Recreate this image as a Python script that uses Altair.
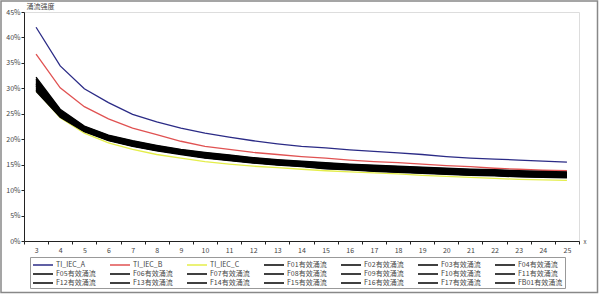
import altair as alt
import pandas as pd

harmonics = list(range(3, 26))

ti_iec_a = [42.0, 34.4, 29.9, 27.2, 24.9, 23.4, 22.2, 21.2, 20.4, 19.7, 19.1, 18.6, 18.3, 17.9, 17.6, 17.3, 17.0, 16.6, 16.3, 16.1, 15.9, 15.7, 15.5]
ti_iec_b = [36.7, 30.1, 26.4, 24.0, 22.2, 20.9, 19.6, 18.6, 18.0, 17.4, 17.0, 16.6, 16.3, 15.9, 15.6, 15.4, 15.1, 14.8, 14.6, 14.3, 14.1, 13.9, 13.8]
ti_iec_c = [29.5, 24.2, 21.2, 19.3, 18.0, 17.0, 16.3, 15.6, 15.1, 14.7, 14.4, 14.1, 13.8, 13.6, 13.4, 13.2, 12.9, 12.7, 12.5, 12.3, 12.1, 12.0, 11.9]

f01 = [32.2, 25.9, 22.6, 20.8, 19.7, 18.8, 18.0, 17.4, 16.9, 16.4, 16.0, 15.7, 15.4, 15.1, 14.9, 14.7, 14.5, 14.3, 14.1, 14.0, 13.8, 13.7, 13.6]
f02 = [31.9, 25.7, 22.5, 20.7, 19.6, 18.7, 17.9, 17.3, 16.8, 16.3, 15.9, 15.6, 15.3, 15.0, 14.8, 14.6, 14.4, 14.2, 14.0, 13.9, 13.7, 13.6, 13.5]
f03 = [31.8, 25.6, 22.4, 20.6, 19.5, 18.6, 17.8, 17.2, 16.7, 16.2, 15.8, 15.5, 15.2, 14.9, 14.7, 14.5, 14.3, 14.1, 13.9, 13.8, 13.6, 13.5, 13.4]
f04 = [31.6, 25.5, 22.3, 20.5, 19.4, 18.5, 17.7, 17.1, 16.6, 16.1, 15.7, 15.4, 15.1, 14.8, 14.6, 14.4, 14.2, 14.0, 13.8, 13.7, 13.5, 13.4, 13.3]
f05 = [31.4, 25.4, 22.3, 20.5, 19.4, 18.5, 17.7, 17.1, 16.6, 16.1, 15.7, 15.4, 15.0, 14.8, 14.5, 14.3, 14.1, 13.9, 13.7, 13.6, 13.5, 13.4, 13.3]
f06 = [31.2, 25.4, 22.2, 20.4, 19.3, 18.4, 17.7, 17.0, 16.5, 16.0, 15.6, 15.3, 15.0, 14.7, 14.5, 14.3, 14.1, 13.9, 13.7, 13.6, 13.4, 13.3, 13.2]
f07 = [31.1, 25.3, 22.1, 20.3, 19.2, 18.3, 17.6, 16.9, 16.4, 15.9, 15.5, 15.2, 14.9, 14.6, 14.4, 14.2, 14.0, 13.8, 13.6, 13.5, 13.3, 13.2, 13.1]
f08 = [30.9, 25.2, 22.1, 20.3, 19.2, 18.3, 17.5, 16.9, 16.4, 15.9, 15.5, 15.2, 14.9, 14.6, 14.4, 14.2, 14.0, 13.8, 13.6, 13.5, 13.3, 13.2, 13.1]
f09 = [30.8, 25.1, 22.0, 20.2, 19.1, 18.2, 17.5, 16.8, 16.3, 15.8, 15.4, 15.1, 14.8, 14.5, 14.3, 14.1, 13.9, 13.7, 13.5, 13.4, 13.2, 13.1, 13.0]
f10 = [30.7, 25.0, 22.0, 20.2, 19.1, 18.2, 17.4, 16.8, 16.3, 15.8, 15.4, 15.1, 14.7, 14.5, 14.2, 14.0, 13.8, 13.6, 13.4, 13.3, 13.1, 13.0, 12.9]
f11 = [30.5, 24.9, 21.9, 20.1, 19.0, 18.1, 17.4, 16.7, 16.2, 15.7, 15.3, 15.0, 14.7, 14.4, 14.2, 14.0, 13.8, 13.6, 13.4, 13.3, 13.1, 13.0, 12.9]
f12 = [30.4, 24.9, 21.9, 20.1, 19.0, 18.1, 17.3, 16.7, 16.2, 15.7, 15.3, 15.0, 14.6, 14.4, 14.1, 13.9, 13.7, 13.5, 13.3, 13.2, 13.0, 12.9, 12.8]
f13 = [30.2, 24.8, 21.8, 20.0, 18.9, 18.0, 17.3, 16.6, 16.1, 15.6, 15.2, 14.9, 14.6, 14.3, 14.1, 13.9, 13.7, 13.5, 13.3, 13.2, 13.0, 12.9, 12.8]
f14 = [30.1, 24.7, 21.8, 20.0, 18.9, 18.0, 17.2, 16.6, 16.1, 15.6, 15.2, 14.9, 14.5, 14.3, 14.0, 13.8, 13.6, 13.4, 13.2, 13.1, 12.9, 12.8, 12.7]
f15 = [29.9, 24.6, 21.7, 19.9, 18.8, 17.9, 17.2, 16.5, 16.0, 15.5, 15.1, 14.8, 14.4, 14.2, 13.9, 13.7, 13.5, 13.3, 13.1, 13.0, 12.8, 12.7, 12.6]
f16 = [29.7, 24.5, 21.6, 19.8, 18.7, 17.8, 17.1, 16.4, 15.9, 15.4, 15.0, 14.7, 14.3, 14.1, 13.8, 13.6, 13.4, 13.2, 13.0, 12.9, 12.7, 12.6, 12.5]
f17 = [29.6, 24.4, 21.6, 19.8, 18.7, 17.8, 17.1, 16.4, 15.9, 15.4, 15.0, 14.7, 14.3, 14.1, 13.8, 13.6, 13.4, 13.2, 13.0, 12.9, 12.7, 12.6, 12.5]
fb01 = [29.4, 24.3, 21.5, 19.7, 18.6, 17.7, 17.0, 16.3, 15.8, 15.3, 14.9, 14.6, 14.2, 14.0, 13.7, 13.5, 13.3, 13.1, 12.9, 12.8, 12.6, 12.5, 12.4]

series_names = ["TI_IEC_A", "TI_IEC_B", "TI_IEC_C",
                "F01有效涌流", "F02有效涌流", "F03有效涌流", "F04有效涌流",
                "F05有效涌流", "F06有效涌流", "F07有效涌流", "F08有效涌流",
                "F09有效涌流", "F10有效涌流", "F11有效涌流", "F12有效涌流",
                "F13有效涌流", "F14有效涌流", "F15有效涌流", "F16有效涌流",
                "F17有效涌流", "FB01有效涌流"]
series_values = [ti_iec_a, ti_iec_b, ti_iec_c, f01, f02, f03, f04, f05, f06, f07,
                 f08, f09, f10, f11, f12, f13, f14, f15, f16, f17, fb01]
series_colors = ["#2b2b86", "#e05252", "#e4ee4a"] + ["#000000"] * 18
y_ticks = [0, 5, 10, 15, 20, 25, 30, 35, 40, 45]

rows = []
for order, (name, vals) in enumerate(zip(series_names, series_values)):
    for h, v in zip(harmonics, vals):
        rows.append({"series": name, "h": h, "v": v, "order": order})
df = pd.DataFrame(rows)

FONT = "Noto Sans CJK SC"

lines = alt.Chart(df).mark_line(strokeWidth=1.3).encode(
    x=alt.X("h:O",
            scale=alt.Scale(type="band", paddingInner=0, paddingOuter=0),
            bandPosition=0.5,
            axis=alt.Axis(title="x", labelAngle=0, tickBand="extent",
                          tickSize=3, labelPadding=2, labelFontSize=7,
                          labelFont=FONT, labelColor="#444",
                          domainColor="#222", tickColor="#222",
                          titleFontSize=6, titleFont=FONT, titleFontWeight="normal",
                          titleX=559, titleY=0, titleAlign="left",
                          titleBaseline="middle", titleColor="#444")),
    y=alt.Y("v:Q",
            scale=alt.Scale(domain=[0, 45]),
            axis=alt.Axis(values=y_ticks, labelExpr="datum.value + '%'",
                          grid=False, tickSize=3, labelPadding=1,
                          labelFontSize=7, labelFont=FONT, labelColor="#444",
                          domainColor="#222", tickColor="#222",
                          title="涌流强度", titleAngle=0, titleAlign="left",
                          titleBaseline="middle", titleX=2, titleY=-6,
                          titleFontSize=7, titleFont=FONT,
                          titleFontWeight="normal", titleColor="#444")),
    color=alt.Color("series:N",
                    scale=alt.Scale(domain=series_names, range=series_colors),
                    legend=alt.Legend(title=None, orient="none",
                                      legendX=6, legendY=245,
                                      columns=7, direction="horizontal",
                                      symbolType="M-1,0H3", symbolSize=100,
                                      symbolStrokeWidth=1.5,
                                      labelFontSize=7, labelFont=FONT,
                                      labelColor="#444", labelOffset=12,
                                      strokeColor="#999", padding=2,
                                      columnPadding=6, rowPadding=0,
                                      gridAlign="all", labelLimit=90)),
    detail="series:N",
    order=alt.Order("order:Q"),
)

border = alt.Chart(alt.Data(values=[{}])).mark_rect(
    fill="white", fillOpacity=0, stroke="#888", strokeWidth=1.5
).encode(
    x=alt.value(-23), x2=alt.value(573.5), y=alt.value(-11), y2=alt.value(280.5)
)

chart = alt.layer(lines, border).properties(
    width=555, height=229,
    autosize=alt.AutoSizeParams(type="none"),
    padding={"left": 24, "top": 12, "right": 21, "bottom": 54},
).configure_view(stroke="#999", strokeWidth=1).configure(background="white")

chart.save("out.html", embed_options={"renderer": "svg", "actions": False})
